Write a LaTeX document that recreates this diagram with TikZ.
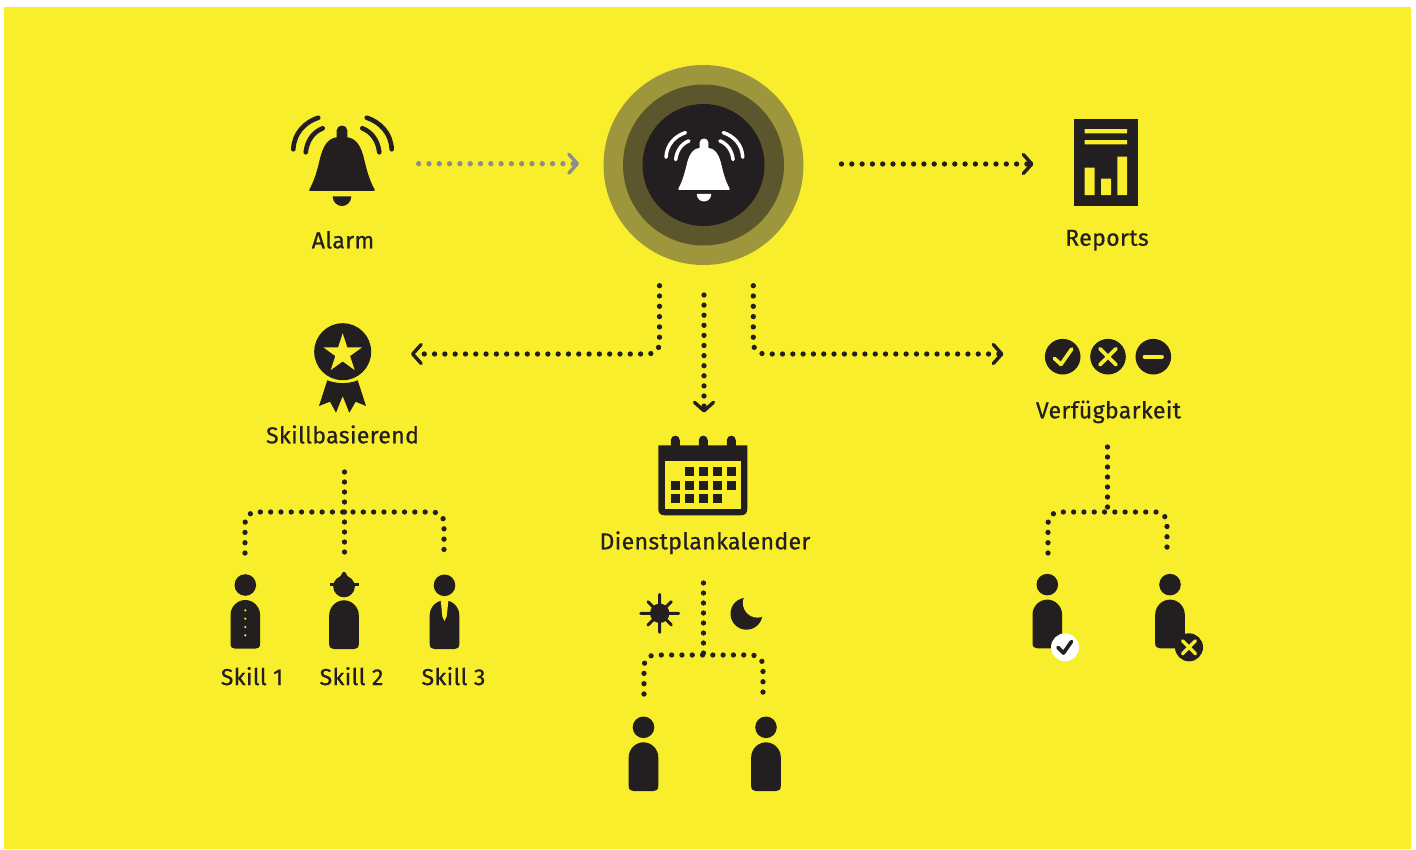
\documentclass[tikz,border=0pt]{standalone}
\usepackage{fontspec}
\usetikzlibrary{arrows.meta,shapes.geometric}
\newfontfamily\labfont{Fira Sans}[FakeBold=0.7,LetterSpace=1.7]
\definecolor{ybg}{RGB}{249,238,44}
\definecolor{ink}{RGB}{35,31,32}
\definecolor{ringa}{RGB}{157,150,60}
\definecolor{ringb}{RGB}{92,86,45}
\definecolor{greyc}{RGB}{142,141,140}
\tikzset{
  x=1pt,y=-1pt,
  lab/.style={font=\labfont\fontsize{23}{23}\selectfont,text=ink,anchor=base,inner sep=0pt},
  conn/.style={draw=ink,line width=5.3pt,line cap=round,dash pattern=on 0pt off 10.3pt,rounded corners=11pt},
  tip/.style={-{Straight Barb[length=8.5pt,width=19pt,line width=3.4pt,round]}},
  pics/bellicon/.style 2 args={code={
    \fill[#1,line join=round,draw=#1,line width=1.6pt]
      (-32,25) .. controls (-26,14) and (-24,5) .. (-21.5,-5)
      .. controls (-18.5,-19) and (-13,-26.5) .. (-4.5,-27) -- (-4.5,-34.5)
      .. controls (-4.5,-40) and (4.5,-40) .. (4.5,-34.5) -- (4.5,-27)
      .. controls (13,-26.5) and (18.5,-19) .. (21.5,-5)
      .. controls (24,5) and (26,14) .. (32,25) -- cycle;
    \fill[#1] (-9.3,31.3) -- (9.3,31.3) .. controls (9.3,37) and (5,41) .. (0,41)
      .. controls (-5,41) and (-9.3,37) .. (-9.3,31.3) -- cycle;
    \draw[#1,line width=#2pt,line cap=round]
      (-48.7,-15.7) .. controls (-48,-32) and (-37,-43) .. (-23.7,-47.3)
      (-36.3,-12.7) .. controls (-35,-24) and (-29,-33) .. (-19.3,-36.7)
      (49.7,-15.7) .. controls (49,-32) and (38,-43) .. (24.7,-47.3)
      (37.3,-12.7) .. controls (36,-24) and (30,-33) .. (20.3,-36.7);
  }},
  pics/bodyicon/.style={code={
    \fill[ink] (-14.8,-5) -- (-14.8,-33.7)
      .. controls (-14.8,-42) and (-8,-48.7) .. (0,-48.7)
      .. controls (8,-48.7) and (14.8,-42) .. (14.8,-33.7)
      -- (14.8,-5) .. controls (14.8,-1.5) and (13,0) .. (10,0)
      -- (-10,0) .. controls (-13,0) and (-14.8,-1.5) .. (-14.8,-5) -- cycle;
  }},
  pics/personicon/.style={code={
    \fill[ink] (0,-63.7) circle[radius=10.8];
    \pic {bodyicon};
  }},
}
\begin{document}
\begin{tikzpicture}
\useasboundingbox (0,0) rectangle (1416,849);
\fill[white] (0,0) rectangle (1416,849);
\fill[ybg] (4,7) rectangle (1411,849);

% centre hub
\node[circle,fill=ringa,minimum size=200pt,inner sep=0pt] (hubouter) at (703.5,165) {};
\node[circle,fill=ringb,minimum size=161pt,inner sep=0pt] (hubmid) at (703.5,165) {};
\node[circle,fill=ink,minimum size=122pt,inner sep=0pt] (hub) at (703.5,165) {};
\pic[scale=0.78] at (704,169.5) {bellicon={white}{3.5}};

% alarm
\pic at (342,165) {bellicon={ink}{4.6}};
\node[lab] (alarm) at (343,248.3) {Alarm};

% reports
\fill[ink] (1074,119) rectangle (1137.7,206);
\fill[ybg] (1084.7,129) rectangle (1127,133.3)
           (1084.7,140) rectangle (1127,144.3)
           (1084.7,167.7) rectangle (1094.7,195)
           (1101,178.7) rectangle (1111,195)
           (1117.3,156.7) rectangle (1127,195);
\node[lab] (reports) at (1107,245.7) {Reports};

% skill badge
\fill[ink] (342.7,351.7) circle[radius=28.5];
\node[star,star points=5,star point ratio=2.618,fill=ybg,minimum size=40.6pt,inner sep=0pt] (starn) at (342.7,353.6) {};
\fill[ink] (327.3,380.3) .. controls (337,384) and (349,384) .. (357.7,380.3)
  -- (366,406) -- (355.7,401.7) -- (349.3,412.7) -- (342.7,396) -- (336,412.7)
  -- (330,401.7) -- (319,406) -- cycle;
\node[lab] (skillb) at (342.5,443.3) {Skillbasierend};

% calendar
\fill[ink] (658.3,445.3) -- (747.3,445.3) -- (747.3,509) .. controls (747.3,513) and (745,515.3) .. (741,515.3)
  -- (664.5,515.3) .. controls (660.5,515.3) and (658.3,513) .. (658.3,509) -- cycle;
\foreach \cx in {675.3,703.3,731.3}{
  \fill[ink] (\cx-4.5,446) -- (\cx-4.5,440.2) .. controls (\cx-4.5,434.2) and (\cx+4.5,434.2) .. (\cx+4.5,440.2) -- (\cx+4.5,446) -- cycle;
}
\fill[ybg] (665,461) rectangle (741,509);
\foreach \cx/\cy in {685/467,699/467,713/467,727/467,
                     671/481,685/481,699/481,713/481,727/481,
                     671/494,685/494,699/494,713/494}{
  \fill[ink] (\cx,\cy) rectangle (\cx+9,\cy+9);
}
\node[lab] (dienst) at (705,549.3) {Dienstplankalender};

% availability marks
\fill[ink] (1062.7,356.7) circle[radius=17.8] (1108,356.7) circle[radius=17.8] (1153.3,356.7) circle[radius=17.8];
\draw[ybg,line width=3.7pt,line cap=round,line join=round] (1054.4,358.4) -- (1061,364.4) -- (1071.7,349);
\draw[ybg,line width=3.7pt,line cap=round] (1100,348.7) -- (1116,364.7) (1116,348.7) -- (1100,364.7);
\draw[ybg,line width=3.7pt,line cap=round] (1144.5,356.7) -- (1162,356.7);
\node[lab] (verf) at (1108.5,418.3) {Verfügbarkeit};

% skill people
\pic at (245.3,648.7) {personicon};
\foreach \dy in {610.3,618.7,627,635.3}{\fill[ybg] (245.3,\dy) circle[radius=1.2];}
\fill[ink] (344,586.5) circle[radius=10.8];
\fill[ink] (330,583.2) rectangle (358.5,585.6);
\fill[ink] (340,577) -- (342.5,572.7) .. controls (343.5,571.4) and (344.5,571.4) .. (345.5,572.7) -- (348,577) -- cycle;
\pic at (344,649) {bodyicon};
\pic at (444.5,649) {personicon};
\fill[ybg] (440.6,599) -- (448.6,599) -- (446.6,616.7) -- (444.5,621) -- (442.4,616.7) -- cycle;
\node[lab] (s1) at (252,685) {Skill 1};
\node[lab] (s2) at (351.5,685) {Skill 2};
\node[lab] (s3) at (453.5,685) {Skill 3};

% sun and moon
\fill[ink] (659.7,613.3) circle[radius=9.7];
\draw[ink,line width=3pt,line cap=round] (640.7,613.3) -- (678.7,613.3) (659.7,594.3) -- (659.7,632.3)
  (648,601.7) -- (671.4,625) (671.4,601.7) -- (648,625);
\fill[ink] (746.5,613.7) circle[radius=16];
\fill[ybg] (757.5,603) circle[radius=14.6];

% shift people
\pic at (643.5,791) {personicon};
\pic at (766,791) {personicon};

% availability people
\pic at (1047.3,648.3) {personicon};
\fill[white] (1065,647.3) circle[radius=14];
\draw[ink,line width=3.7pt,line cap=round,line join=round] (1058,647.5) -- (1063.5,653) -- (1071.5,641.5);
\pic at (1170,648.3) {personicon};
\fill[ink] (1189,647.3) circle[radius=14];
\draw[ybg,line width=3.4pt,line cap=round] (1182.5,640.8) -- (1195.5,653.8) (1195.5,640.8) -- (1182.5,653.8);

% connector end points
\coordinate (alarmout) at (418.7,163.7);
\coordinate (hubin) at (579,163.7);
\coordinate (hubout) at (841.5,164);
\coordinate (repin) at (1033.5,164);
\coordinate (ldown) at (659.5,285.7);
\coordinate (skillin) at (411,354);
\coordinate (mdown) at (704,295);
\coordinate (calin) at (704,412.5);
\coordinate (rdown) at (753.3,285.7);
\coordinate (verin) at (1003.5,354);
\coordinate (st1) at (344.5,472);
\coordinate (st2) at (344.5,553);
\coordinate (sbar) at (344.5,512);
\coordinate (sl) at (245,553);
\coordinate (sr) at (444,553);
\coordinate (ct1) at (703.5,583);
\coordinate (ct2) at (703.5,655);
\coordinate (cl) at (644,694);
\coordinate (cr) at (763,694);
\coordinate (vt1) at (1107.5,447);
\coordinate (vt2) at (1107.5,512);
\coordinate (vl) at (1048,553);
\coordinate (vr) at (1167,553);

% connectors
\draw[conn,tip,draw=greyc] (alarmout) -- (hubin);
\draw[conn,tip] (hubout) -- (repin);
\draw[conn,tip] (ldown) -- (ldown|-skillin) -- (skillin);
\draw[conn,tip,dash pattern=on 0pt off 10.1pt] (mdown) -- (calin);
\draw[conn,tip] (rdown) -- (rdown|-verin) -- (verin);
\draw[conn,dash pattern=on 0pt off 10pt] (st1) -- (st2);
\draw[conn] (sl) -- (sl|-sbar) -- (sr|-sbar) -- (sr);
\draw[conn,dash pattern=on 0pt off 10pt] (ct1) -- (ct2);
\draw[conn] (cl) -- (cl|-ct2) -- (cr|-ct2) -- (cr);
\draw[conn,dash pattern=on 0pt off 10pt] (vt1) -- (vt2);
\draw[conn] (vl) -- (vl|-vt2) -- (vr|-vt2) -- (vr);
\end{tikzpicture}
\end{document}
